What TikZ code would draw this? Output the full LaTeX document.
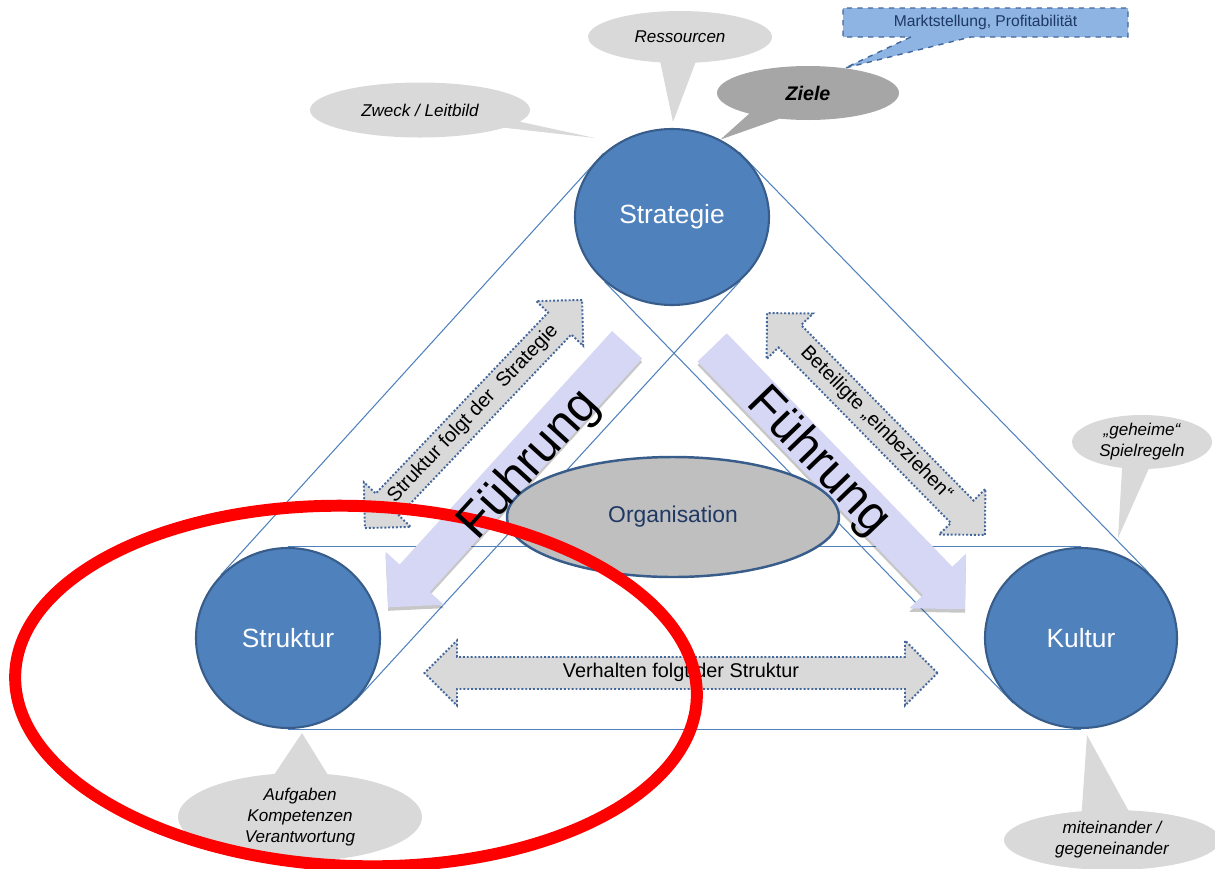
\documentclass[tikz,border=0pt]{standalone}
\usepackage{fontspec}
\setmainfont{Liberation Sans}
\usepackage{tikz}
\usetikzlibrary{shapes.geometric,%
                shapes.arrows,%
                shapes.callouts,%
                backgrounds}

\definecolor{kreisblau}{HTML}{4F81BD}
\definecolor{kreisrand}{HTML}{385D8A}
\definecolor{hellgrau}{HTML}{D9D9D9}
\definecolor{mittelgrau}{HTML}{A6A6A6}
\definecolor{orggrau}{HTML}{BFBFBF}
\definecolor{lila}{HTML}{D6D7F4}
\definecolor{kastenblau}{HTML}{8DB4E2}
\definecolor{textblau}{HTML}{1F3864}
\definecolor{punktblau}{HTML}{44679B}

\begin{document}
\begin{tikzpicture}[x=0.2mm,y=-0.2mm]
		\useasboundingbox (0,0) rectangle (1215,868);
		\tikzstyle{Kreis}=[ellipse,draw=kreisrand,line width=1.2pt,fill=kreisblau,text=white,font=\fontsize{15}{18}\selectfont]
		\tikzstyle{Linie}=[draw=kreisblau,line width=0.6pt]
		\tikzstyle{FPfeil}=[single arrow,fill=lila,inner xsep=0pt,inner ysep=0.4cm,single arrow head extend=0.38cm,single arrow tip angle=90]
		\tikzstyle{FText}=[font=\fontsize{28}{30}\selectfont,inner sep=0pt]
		\tikzstyle{DPfeil}=[double arrow,fill=hellgrau,draw=punktblau,line width=1.1pt,dash pattern=on 1.1pt off 1.1pt,double arrow head extend=0.33cm,inner xsep=0pt,inner ysep=0.13cm,text height=0.75em,text depth=0.22em,font=\fontsize{11.3}{13}\selectfont]
		\tikzstyle{Blase}=[ellipse callout,fill=hellgrau,inner sep=0pt,align=center,callout pointer arc=22,font=\fontsize{9.7}{12}\selectfont\itshape]
		% die drei Kreise
		\node[Kreis,minimum width=3.88cm,minimum height=3.52cm] (Strategie) at (672,217) {Strategie};
		\node[Kreis,minimum width=3.68cm,minimum height=3.6cm] (Struktur) at (288,638) {Struktur};
		\node[Kreis,minimum width=3.84cm,minimum height=3.6cm] (Kultur) at (1081,638) {Kultur};
		\begin{scope}[on background layer]
			\draw[Linie] (Struktur.north) -- (Kultur.north);
			\draw[Linie] (Struktur.south) -- (Kultur.south);
			\draw[Linie] (Struktur.137) -- (Strategie.137);
			\draw[Linie] (Struktur.-43) -- (Strategie.-43);
			\draw[Linie] (Strategie.44) -- (Kultur.44);
			\draw[Linie] (Strategie.224) -- (Kultur.224);
		\end{scope}
		% Fuehrung
		{
			\tikzstyle{FPfeil}+=[fill=black,opacity=0.22]
			\node[FPfeil,minimum height=7.1cm,rotate=227.7] (SchattenL) at (514.5,472) {};
			\node[FPfeil,minimum height=7.28cm,rotate=-46] (SchattenR) at (831.5,474.5) {};
		}
		\node[FPfeil,minimum height=7.1cm,rotate=227.7] (FuehrungL) at (514.5,468.5) {};
		\node[FPfeil,minimum height=7.28cm,rotate=-46] (FuehrungR) at (831.5,471) {};
		\node[ellipse,draw=kreisrand,line width=1.4pt,fill=orggrau,text=textblau,minimum width=6.64cm,minimum height=2.4cm,font=\fontsize{13}{15}\selectfont] (Organisation) at (673,517) {Organisation};
		% Doppelpfeile
		\node[DPfeil,minimum height=6.3cm,rotate=46.4] (StrukturStrategie) at (473.5,414) {Struktur folgt der~~Strategie};
		\node[DPfeil,minimum height=6.22cm,rotate=-45.5] (Beteiligte) at (876,424) {Beteiligte „einbeziehen“};
		\node[DPfeil,minimum height=10.26cm] (Verhalten) at (681,673) {Verhalten folgt der Struktur};
		% Sprechblasen
		\coordinate (RessourcenSpitze) at (673,122);
		\coordinate (ZweckSpitze) at (595,138);
		\coordinate (SpielregelnSpitze) at (1118,538);
		\coordinate (AufgabenSpitze) at (302,733);
		\coordinate (MiteinanderSpitze) at (1087,735);
		\node[Blase,minimum width=3.68cm,minimum height=1.04cm,callout absolute pointer={(RessourcenSpitze)}] (Ressourcen) at (680,37) {Ressourcen};
		\node[Blase,minimum width=4.4cm,minimum height=1.1cm,callout pointer arc=15,callout absolute pointer={(ZweckSpitze)}] (Zweck) at (420,110) {Zweck / Leitbild};
		\node[Blase,fill=mittelgrau,minimum width=3.64cm,minimum height=1.08cm,font=\fontsize{11.2}{13}\selectfont\bfseries\itshape,callout absolute pointer={(Strategie.58)}] (Ziele) at (808,93) {Ziele};
		\node[rectangle callout,fill=kastenblau,draw=punktblau,dashed,line width=0.8pt,text=textblau,minimum width=5.7cm,minimum height=0.58cm,callout pointer width=1.2cm,font=\fontsize{8.9}{10}\selectfont,callout absolute pointer={(Ziele.34)}] (Markt) at (985.5,22.5) {Marktstellung, Profitabilität};
		\node[Blase,minimum width=2.8cm,minimum height=1.08cm,callout absolute pointer={(SpielregelnSpitze)}] (Spielregeln) at (1142,442) {„geheime“\\Spielregeln};
		\node[Blase,minimum width=4.88cm,minimum height=1.76cm,callout pointer arc=25,callout absolute pointer={(AufgabenSpitze)}] (Aufgaben) at (300,817) {Aufgaben\\Kompetenzen\\Verantwortung};
		\node[Blase,minimum width=4.32cm,minimum height=1.2cm,callout pointer arc=25,callout absolute pointer={(MiteinanderSpitze)}] (Miteinander) at (1112,840) {miteinander /\\gegeneinander};
		% Markierung
		\node[ellipse,draw=red,line width=6.8pt,minimum width=13.64cm,minimum height=7.2cm,rotate=-2] (Markierung) at (356,686) {};
		\node[FText,rotate=47.7] (FuehrungTextL) at (530,465) {Führung};
		\node[FText,rotate=-46] (FuehrungTextR) at (818,462) {Führung};
	\end{tikzpicture}
\end{document}
